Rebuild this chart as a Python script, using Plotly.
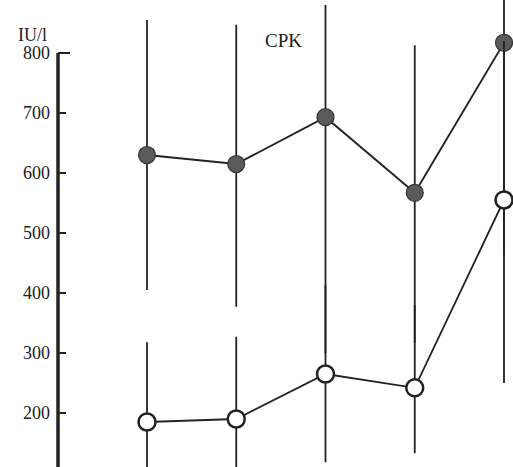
import plotly.graph_objects as go

# Data
timepoints = [1, 2, 3, 4, 5]
cpk_filled = [630, 615, 693, 567, 817]
cpk_filled_err_plus = [225, 232, 187, 246, 100]
cpk_filled_err_minus = [225, 238, 393, 250, 354]
cpk_open = [185, 190, 265, 242, 555]
cpk_open_err_plus = [133, 137, 148, 138, 265]
cpk_open_err_minus = [133, 137, 147, 109, 305]
y_tickvals = [200, 300, 400, 500, 600, 700, 800]

INK = "#222222"
FONT = "Liberation Serif"

fig = go.Figure()

fig.add_trace(go.Scatter(
    x=timepoints, y=cpk_filled, mode="lines+markers",
    line=dict(color=INK, width=1.8),
    marker=dict(size=17, color="#5a5a5a", line=dict(color="#333333", width=1.2)),
    error_y=dict(type="data", symmetric=False, array=cpk_filled_err_plus,
                 arrayminus=cpk_filled_err_minus, width=0, thickness=1.8, color=INK),
    cliponaxis=False, showlegend=False,
))

fig.add_trace(go.Scatter(
    x=timepoints, y=cpk_open, mode="lines+markers",
    line=dict(color=INK, width=1.8),
    marker=dict(size=17, color="white", line=dict(color=INK, width=2.5)),
    error_y=dict(type="data", symmetric=False, array=cpk_open_err_plus,
                 arrayminus=cpk_open_err_minus, width=0, thickness=1.8, color=INK),
    cliponaxis=False, showlegend=False,
))

# y axis line from 800 downward
fig.add_shape(type="line", xref="paper", yref="y", x0=0, x1=0, y0=800, y1=100,
              line=dict(color=INK, width=3.5))
# top tick longer
fig.add_shape(type="line", xref="paper", yref="y", x0=0, x1=12 / 455, y0=800, y1=800,
              line=dict(color=INK, width=2))

fig.add_annotation(text="IU/l", xref="paper", yref="y", x=-0.057, y=830,
                   xanchor="center", yanchor="middle",
                   showarrow=False, font=dict(family=FONT, size=18, color=INK))
fig.add_annotation(text="CPK", xref="x", yref="y", x=2.524, y=820,
                   xanchor="center", yanchor="middle",
                   showarrow=False, font=dict(family=FONT, size=19, color=INK))

fig.update_layout(
    width=513, height=467,
    margin=dict(l=58, r=0, t=0, b=0),
    paper_bgcolor="white", plot_bgcolor="white",
    xaxis=dict(range=[0.0028, 5.101], visible=False, showgrid=False, zeroline=False),
    yaxis=dict(range=[110, 888.3], tickvals=y_tickvals, ticks="inside", ticklen=8,
               tickwidth=2, tickcolor=INK, showline=False, showgrid=False,
               zeroline=False, ticklabelstandoff=7,
               tickfont=dict(family=FONT, size=18, color=INK)),
)

fig.write_html(
    "out.html",
    config={"displayModeBar": False},
    post_script="document.body.style.margin='0px';document.body.style.overflow='hidden';",
)
